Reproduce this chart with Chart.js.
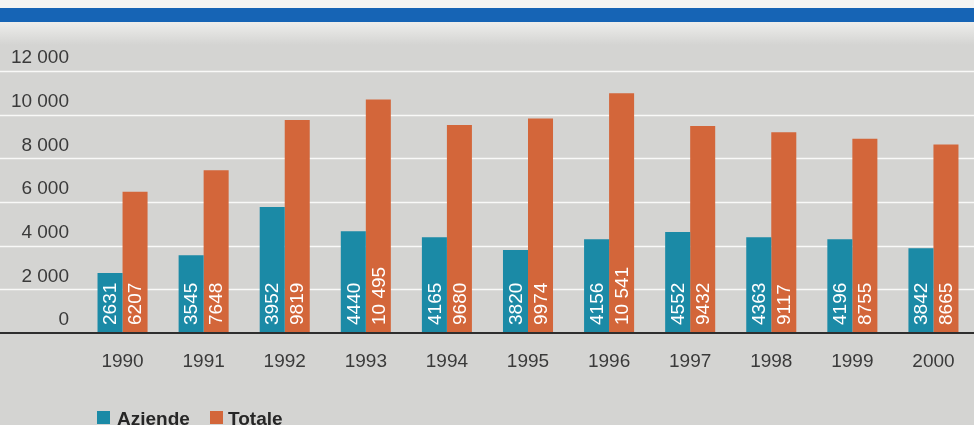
<!DOCTYPE html>
<html>
<head>
<meta charset="utf-8">
<script src="https://cdn.jsdelivr.net/npm/chart.js@4"></script>
<style>
  html, body { margin: 0; padding: 0; background: #d4d4d2; }
  #wrap { width: 974px; height: 425px; position: relative; }
</style>
</head>
<body>
<div id="wrap"><canvas id="chart"></canvas></div>
<script>
const years = ["1990", "1991", "1992", "1993", "1994", "1995", "1996", "1997", "1998", "1999", "2000"];
// bar heights as drawn in the picture
const aziende = [2750, 3560, 5770, 4660, 4380, 3800, 4290, 4630, 4380, 4290, 3880];
const totale = [6470, 7450, 9760, 10700, 9530, 9820, 10980, 9480, 9190, 8900, 8630];
// numbers printed inside the bars
const aziendeLabels = ["2631", "3545", "3952", "4440", "4165", "3820", "4156", "4552", "4363", "4196", "3842"];
const totaleLabels = ["6207", "7648", "9819", "10 495", "9680", "9974", "10 541", "9432", "9117", "8755", "8665"];
const seriesNames = ["Aziende", "Totale"];
const seriesColors = ["#1b8aa6", "#d3663a"];

const FONT = "'Liberation Sans', Arial, sans-serif";

function fmt(v) {
    return v >= 10000 ? String(v).replace(/(\d+)(\d{3})$/, "$1 $2") : String(v);
}

const backdrop = {
    id: 'backdrop',
    beforeDraw(chart) {
        const ctx = chart.ctx;
        const w = chart.width, h = chart.height;
        ctx.save();
        ctx.fillStyle = '#d4d4d2';
        ctx.fillRect(0, 0, w, h);
        // faint lighter area under the band
        const g = ctx.createLinearGradient(0, 22, 0, 45);
        g.addColorStop(0, 'rgba(240,240,238,0.9)');
        g.addColorStop(1, 'rgba(240,240,238,0)');
        ctx.fillStyle = g;
        ctx.fillRect(0, 22, w, 23);
        ctx.fillStyle = '#f4f4f2';
        ctx.fillRect(0, 0, w, 8);
        ctx.fillStyle = '#1664b5';
        ctx.fillRect(0, 8, w, 14);
        ctx.restore();
    },
    beforeDatasetsDraw(chart) {
        // white grid lines across the whole width
        const ctx = chart.ctx;
        const y = chart.scales.y;
        ctx.save();
        ctx.strokeStyle = 'rgba(255,255,255,0.85)';
        ctx.lineWidth = 1.5;
        y.ticks.forEach(t => {
            if (t.value === 0) return;
            const py = Math.round(y.getPixelForValue(t.value)) + 0.5;
            ctx.beginPath();
            ctx.moveTo(0, py);
            ctx.lineTo(chart.width, py);
            ctx.stroke();
        });
        ctx.restore();
    },
    afterDatasetsDraw(chart) {
        const ctx = chart.ctx;
        const base = chart.scales.y.getPixelForValue(0);
        ctx.save();
        ctx.strokeStyle = '#2e2e2e';
        ctx.lineWidth = 2;
        ctx.beginPath();
        ctx.moveTo(0, base);
        ctx.lineTo(chart.width, base);
        ctx.stroke();

        // vertical value labels inside bars
        const labelSets = [aziendeLabels, totaleLabels];
        ctx.fillStyle = '#ffffff';
        ctx.font = '19px ' + FONT;
        ctx.textAlign = 'left';
        ctx.textBaseline = 'middle';
        chart.data.datasets.forEach((ds, di) => {
            chart.getDatasetMeta(di).data.forEach((bar, i) => {
                ctx.save();
                ctx.translate(bar.x + 1, base - 8);
                ctx.rotate(-Math.PI / 2);
                ctx.fillText(labelSets[di][i], 0, 0);
                ctx.restore();
            });
        });

        // legend
        ctx.font = 'bold 19px ' + FONT;
        ctx.textBaseline = 'alphabetic';
        ctx.fillStyle = seriesColors[0];
        ctx.fillRect(97, 411, 13, 13);
        ctx.fillStyle = '#262626';
        ctx.fillText(seriesNames[0], 117, 425);
        ctx.fillStyle = seriesColors[1];
        ctx.fillRect(210, 411, 13, 13);
        ctx.fillStyle = '#262626';
        ctx.fillText(seriesNames[1], 228, 425);
        ctx.restore();
    }
};

new Chart(document.getElementById('chart'), {
    type: 'bar',
    data: {
        labels: years,
        datasets: [
            { label: seriesNames[0], data: aziende, backgroundColor: seriesColors[0] },
            { label: seriesNames[1], data: totale, backgroundColor: seriesColors[1] }
        ]
    },
    options: {
        responsive: true,
        maintainAspectRatio: false,
        animation: false,
        events: [],
        layout: { padding: { top: 71, bottom: 52, left: 0, right: 0 } },
        datasets: { bar: { categoryPercentage: 0.617, barPercentage: 1.0 } },
        scales: {
            x: {
                grid: { display: false, drawTicks: false },
                border: { display: false },
                ticks: { color: '#3a3a3a', font: { size: 19, family: FONT }, padding: 17, maxRotation: 0 },
                afterFit(scale) { scale.height = 40; }
            },
            y: {
                min: 0,
                max: 12000,
                grid: { display: false, drawTicks: false },
                border: { display: false },
                ticks: {
                    stepSize: 2000,
                    color: '#3a3a3a',
                    font: { size: 19, family: FONT },
                    padding: 13,
                    labelOffset: -13,
                    callback: v => v === 0 ? '0' : (v / 1000) + ' 000'
                },
                afterFit(scale) { scale.width = 82; }
            }
        },
        plugins: {
            legend: { display: false },
            tooltip: { enabled: false }
        }
    },
    plugins: [backdrop]
});
</script>
</body>
</html>
